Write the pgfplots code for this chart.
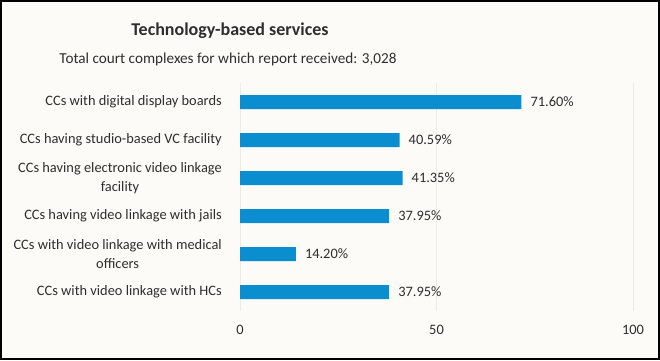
\documentclass[border=0pt]{standalone}
\usepackage{pgfplots}
\pgfplotsset{compat=1.18}
\usepackage{fontspec}
\setmainfont{Carlito}
\definecolor{barblue}{HTML}{0B8ED0}
\definecolor{bgc}{HTML}{FCFBF8}
\definecolor{txt}{HTML}{2E2E2E}
\definecolor{gridc}{HTML}{EBEBEB}
\begin{document}
\begin{tikzpicture}[x=1bp,y=1bp]
\useasboundingbox (0,0) rectangle (660,360);
\fill[bgc] (0,0) rectangle (660,360);
\draw[black,line width=2bp] (1,1) rectangle (659,359);
\node[font=\fontsize{18bp}{22bp}\selectfont\bfseries,text=txt,anchor=base] at (230,325) {Technology-based services};
\node[font=\fontsize{15.2bp}{18bp}\selectfont,text=txt,anchor=base] at (228,297) {Total court complexes for which report received: 3,028};
\begin{axis}[
  at={(240bp,49bp)}, anchor=south west,
  scale only axis, width=393bp, height=228bp,
  xbar, bar width=14bp,
  xmin=0, xmax=100, ymin=-0.5, ymax=5.5,
  y dir=reverse,
  axis line style={draw=none},
  major tick length=0pt,
  xtick={0,50,100},
  xmajorgrids, grid style={gridc, line width=0.8bp},
  ytick={0,1,2,3,4,5},
  yticklabels={
    {CCs with digital display boards},
    {CCs having studio-based VC facility},
    {CCs having electronic video linkage\\facility},
    {CCs having video linkage with jails},
    {CCs with video linkage with medical\\officers},
    {CCs with video linkage with HCs}},
  yticklabel style={align=center, font=\fontsize{14.4bp}{19bp}\selectfont, text=txt, inner sep=0pt, xshift=-18bp},
  xticklabel style={font=\fontsize{14.4bp}{17bp}\selectfont, text=txt, yshift=-11bp},
  /pgf/number format/assume math mode=true,
  point meta=explicit symbolic,
  nodes near coords,
  every node near coord/.append style={font=\fontsize{14.4bp}{17bp}\selectfont, text=txt, anchor=west, inner sep=0pt, xshift=9bp},
]
\addplot[fill=barblue, draw=none] coordinates {
  (71.60,0) [71.60\%]
  (40.59,1) [40.59\%]
  (41.35,2) [41.35\%]
  (37.95,3) [37.95\%]
  (14.20,4) [14.20\%]
  (37.95,5) [37.95\%]
};
\end{axis}
\end{tikzpicture}
\end{document}
